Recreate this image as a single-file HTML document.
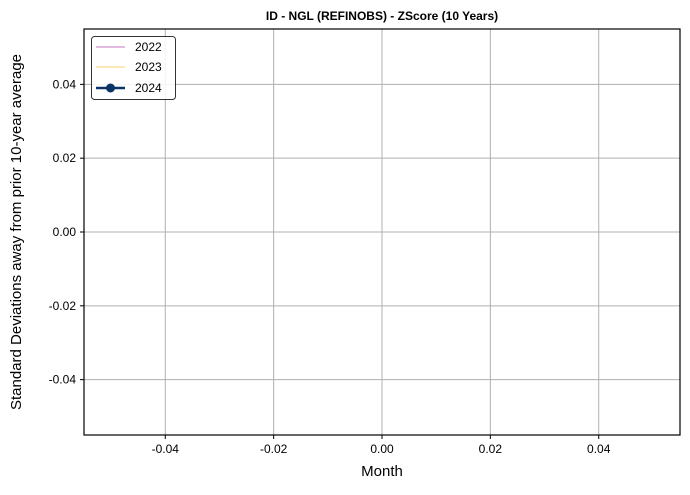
<!DOCTYPE html>
<html><head><meta charset="utf-8"><style>
body{margin:0;background:#fff;}
svg text{font-family:"Liberation Sans",sans-serif;}
</style></head><body>
<svg width="690" height="490" xmlns="http://www.w3.org/2000/svg">
<rect width="690" height="490" fill="#fff"/>
<g id="grid"></g>
<g id="ticks"></g>
<rect x="84" y="29" width="596" height="406" fill="none" stroke="#000" stroke-width="1.2"/>
<text x="382" y="20" text-anchor="middle" font-size="12" font-weight="bold">ID - NGL (REFINOBS) - ZScore (10 Years)</text>
<text x="382" y="476" text-anchor="middle" font-size="15">Month</text>
<text transform="translate(21,232) rotate(-90)" text-anchor="middle" font-size="15">Standard Deviations away from prior 10-year average</text>
<g>
<rect x="91.5" y="36.5" width="84" height="63" rx="3" fill="#fff" fill-opacity="0.85" stroke="#333"/>
<line x1="96" y1="47" x2="125" y2="47" stroke="#d8a6d6" stroke-width="1.5"/>
<text x="135" y="51" font-size="12">2022</text>
<line x1="96" y1="67" x2="125" y2="67" stroke="#fde1a0" stroke-width="1.5"/>
<text x="135" y="71" font-size="12">2023</text>
<line x1="96" y1="88" x2="125" y2="88" stroke="#0a3466" stroke-width="2.5"/>
<circle cx="110.5" cy="88" r="4.5" fill="#0a3466"/>
<text x="135" y="92" font-size="12">2024</text>
</g>
</svg>
<script>
const xTicks=[-0.04,-0.02,0.00,0.02,0.04];
const yTicks=[0.04,0.02,0.00,-0.02,-0.04];
const xMin=-0.055,xMax=0.055,yMin=-0.055,yMax=0.055;
const L=84,R=680,T=29,B=435;
const xs=v=>L+(v-xMin)/(xMax-xMin)*(R-L);
const ys=v=>B-(v-yMin)/(yMax-yMin)*(B-T);
const NS="http://www.w3.org/2000/svg";
const g=document.getElementById('grid'),t=document.getElementById('ticks');
function mk(tag,a,p){const e=document.createElementNS(NS,tag);for(const k in a)e.setAttribute(k,a[k]);p.appendChild(e);return e;}
xTicks.forEach(v=>{const x=xs(v);
const gl=mk('line',{x1:x,x2:x,y1:T,y2:B,stroke:'#b0b0b0','stroke-width':1},g);


mk('line',{x1:x,x2:x,y1:B,y2:B+4,stroke:'#000'},t);
const tx=mk('text',{x:x,y:B+18,'text-anchor':'middle','font-size':12},t);tx.textContent=v.toFixed(2);

});
yTicks.forEach(v=>{const y=ys(v);
const gl=mk('line',{x1:L,x2:R,y1:y,y2:y,stroke:'#b0b0b0','stroke-width':1},g);


mk('line',{x1:L-4,x2:L,y1:y,y2:y,stroke:'#000'},t);
const tx=mk('text',{x:L-8,y:y+4,'text-anchor':'end','font-size':12},t);tx.textContent=v.toFixed(2);

});
</script>
</body></html>
